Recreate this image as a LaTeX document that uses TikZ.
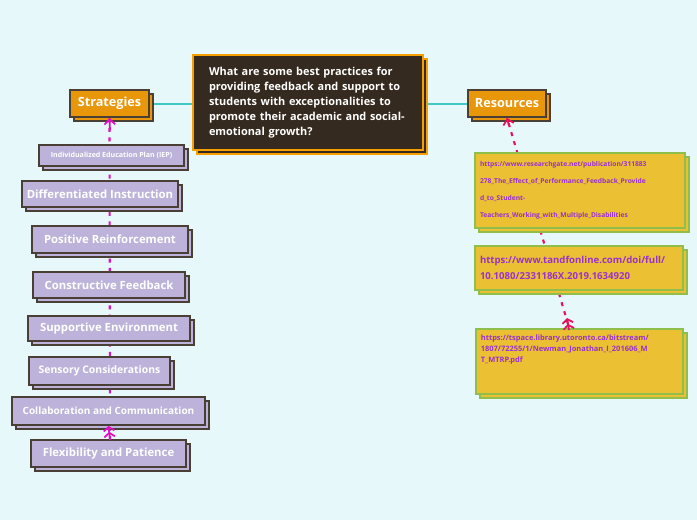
\documentclass[tikz,border=0pt]{standalone}
\usepackage{fontspec}
\setmainfont{Open Sans}
\usetikzlibrary{shadows,arrows.meta,calc}
\definecolor{bg}{HTML}{E6F8F9}
\definecolor{ctr}{HTML}{352A1F}
\definecolor{orng}{HTML}{F5A000}
\definecolor{ob}{HTML}{E8960A}
\definecolor{dk}{HTML}{4A3F35}
\definecolor{lil}{HTML}{BDB3DA}
\definecolor{gold}{HTML}{EBC032}
\definecolor{grn}{HTML}{8FBF4A}
\definecolor{purp}{HTML}{9B30D0}
\definecolor{mag}{HTML}{E010C0}
\definecolor{rd}{HTML}{E8105A}
\definecolor{teal}{HTML}{40C8C8}
\begin{document}
\begin{tikzpicture}[x=0.75pt,y=-0.75pt,
 base/.style={anchor=center,inner sep=0pt,line width=1.3pt,copy shadow={shadow xshift=3pt,shadow yshift=-3pt}},
 topic/.style={base,fill=ob,draw=dk,text=white,font=\bfseries\fontsize{9.5}{11}\selectfont},
 strat/.style={base,fill=lil,draw=dk,text=white,font=\bfseries\fontsize{8.5}{10}\selectfont},
 res/.style={base,fill=gold,draw=grn,text=purp,align=left,font=\bfseries},
 mline/.style={mag,line width=1.6pt,dash pattern=on 3pt off 4pt},
 rline/.style={rd,line width=1.6pt,dash pattern=on 3pt off 4pt}]
\fill[bg] (0,0) rectangle (697,520);
\useasboundingbox (0,0) rectangle (697,520);
% connectors behind
\coordinate (sa) at (110,440);
\coordinate (ra) at (568,324);
\draw[teal,line width=1pt] (149,104) -- (468,104);
\node[topic,minimum width=79*0.75pt,minimum height=27*0.75pt] (strat) at (109.5,103.5) {Strategies};
\node[topic,minimum width=78*0.75pt,minimum height=27*0.75pt] (resrc) at (507,103.5) {Resources};
\draw[mline] (sa) -- (strat.south);
\draw[rline] (ra) -- (resrc.south);
\draw[mag,line width=1.3pt,-{Straight Barb[length=4pt,width=8pt]}] (110,130) -- (strat.south);
\draw[rd,line width=1.3pt,-{Straight Barb[length=4pt,width=8pt]}] ($(resrc.south)+(2,8)$) -- (resrc.south);
\node[base,fill=ctr,draw=orng,line width=2pt,text=white,minimum width=230*0.75pt,minimum height=95*0.75pt,
 align=left,text width=198*0.75pt,font=\bfseries\fontsize{8.2}{11.2}\selectfont] (q) at (308,102.5)
 {What are some best practices for providing feedback and support to students with exceptionalities to promote their academic and social-emotional growth?};
\node[strat,minimum width=145*0.75pt,minimum height=21*0.75pt,font=\bfseries\fontsize{5.3}{6}\selectfont] (s1) at (111.5,155.5) {Individualized Education Plan (IEP)};
\node[strat,minimum width=156*0.75pt,minimum height=26*0.75pt] (s2) at (100,194) {Differentiated Instruction};
\node[strat,minimum width=156*0.75pt,minimum height=27*0.75pt] (s3) at (110,239.5) {Positive Reinforcement};
\node[strat,minimum width=152*0.75pt,minimum height=26*0.75pt] (s4) at (109,285) {Constructive Feedback};
\node[strat,minimum width=162*0.75pt,minimum height=25*0.75pt] (s5) at (109,328.5) {Supportive Environment};
\node[strat,minimum width=141*0.75pt,minimum height=28*0.75pt,font=\bfseries\fontsize{7.8}{9}\selectfont] (s6) at (99.5,371) {Sensory Considerations};
\node[strat,minimum width=193*0.75pt,minimum height=28*0.75pt,font=\bfseries\fontsize{7.5}{9}\selectfont] (s7) at (108.5,411) {Collaboration and Communication};
\node[strat,minimum width=155*0.75pt,minimum height=27*0.75pt] (s8) at (108.5,453.5) {Flexibility and Patience};
\draw[mag,line width=1.3pt,-{Straight Barb[length=3pt,width=8pt]Straight Barb[length=3pt,width=8pt]}] (110,440) -- (s7.south);
\node[res,minimum width=210*0.75pt,minimum height=75*0.75pt,text width=200*0.75pt,font=\bfseries\fontsize{5}{12.8}\selectfont] (r1) at (580,190.5)
 {https://www.researchgate.net/publication/311883\\278\_The\_Effect\_of\_Performance\_Feedback\_Provide\\d\_to\_Student-\\Teachers\_Working\_with\_Multiple\_Disabilities};
\node[res,minimum width=208*0.75pt,minimum height=44*0.75pt,text width=198*0.75pt,font=\bfseries\fontsize{7.2}{12}\selectfont] (r2) at (579,268)
 {https://www.tandfonline.com/doi/full/\\10.1080/2331186X.2019.1634920};
\node[res,minimum width=207*0.75pt,minimum height=65*0.75pt,text width=197*0.75pt,font=\bfseries\fontsize{5.6}{8.4}\selectfont,anchor=north west,text depth=36pt] (r3) at (475,328)
 {https://tspace.library.utoronto.ca/bitstream/\\1807/72255/1/Newman\_Jonathan\_I\_201606\_M\\T\_MTRP.pdf};
\draw[rd,line width=1.3pt,-{Straight Barb[length=3pt,width=8pt]Straight Barb[length=3pt,width=8pt]}] (569,330) -- (567,318);
\end{tikzpicture}
\end{document}
